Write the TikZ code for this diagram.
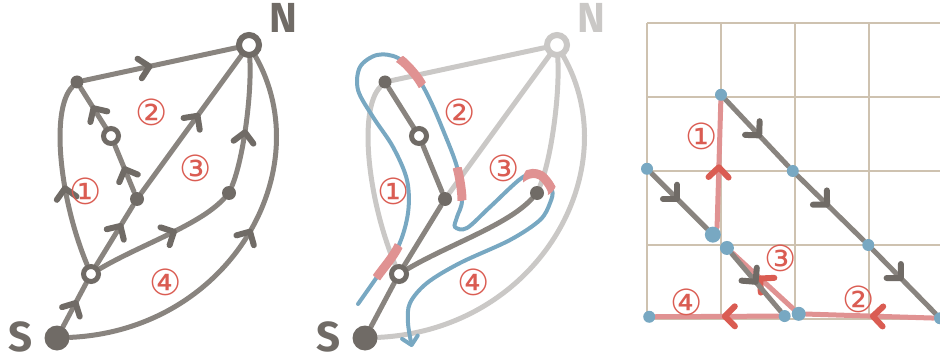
\documentclass[tikz,border=0pt]{standalone}
\usepackage{fontspec}
\setmainfont{Fira Sans}
\newfontfamily\circfont{DejaVu Sans}
\usetikzlibrary{arrows.meta,decorations.markings}

\definecolor{edgegray}{RGB}{137,132,127}
\definecolor{dotgray}{RGB}{112,107,102}
\definecolor{fadegray}{RGB}{202,200,198}
\definecolor{walkblue}{RGB}{120,168,194}
\definecolor{cutpink}{RGB}{224,146,146}
\definecolor{labelred}{RGB}{218,92,82}
\definecolor{gridtan}{RGB}{206,194,176}

\pgfdeclarelayer{back}
\pgfsetlayers{back,main}

\tikzset{
  edge/.style={draw=edgegray, line width=2.5pt, line cap=round},
  faded/.style={draw=fadegray, line width=2.5pt, line cap=round},
  pinkedge/.style={draw=cutpink, line width=2.5pt, line cap=round},
  barb/.style={postaction={decorate, decoration={markings, mark=at position #1 with {\arrow{Straight Barb[length=5pt,width=10pt,line width=3pt,round,color=dotgray]}}}}},
  redbarb/.style={postaction={decorate, decoration={markings, mark=at position #1 with {\arrow{Straight Barb[length=5pt,width=10pt,line width=3pt,round,color=labelred]}}}}},
  bigdot/.style={circle, fill=dotgray, inner sep=0pt, minimum size=12.5pt},
  dot/.style={circle, fill=dotgray, inner sep=0pt, minimum size=#1},
  ring/.style={circle, draw=dotgray, fill=white, line width=2.5pt, inner sep=0pt, minimum size=7.5pt},
  bluedot/.style={circle, fill=walkblue, inner sep=0pt, minimum size=#1},
  num/.style={text=labelred, font=\circfont\fontsize{18}{18}\selectfont, inner sep=0pt},
  letter/.style={text=#1, font=\fontsize{21}{21}\selectfont\bfseries, inner sep=0pt},
  walk/.style={draw=walkblue, line width=2pt, line cap=round},
  cut/.style={draw=cutpink, line width=4.5pt},
  gridline/.style={draw=gridtan, line width=0.6pt}
}

\begin{document}
\begin{tikzpicture}[x=0.5pt, y=-0.5pt]
\useasboundingbox (0,0) rectangle (940,363);

% the two copies of the graph
\foreach \p/\dx/\ncol in {a/0/dotgray, b/308/fadegray}{
  \begin{scope}[shift={(\dx,0)}]
    \node[bigdot] (\p S) at (57,338) {};
    \node[ring] (\p A) at (91,274) {};
    \node[dot=7pt] (\p B) at (137,199) {};
    \node[ring] (\p C) at (111,136) {};
    \node[dot=6.5pt] (\p D) at (77,82) {};
    \node[dot=7pt] (\p E) at (229,193) {};
    \node[ring, draw=\ncol, minimum size=10pt, line width=3pt] (\p N) at (249,45) {};
    \node[letter=dotgray] (\p Sl) at (21,337) {S};
    \node[letter=\ncol] (\p Nl) at (283,18) {N};
    \node[num] (\p f1) at (86,191) {①};
    \node[num] (\p f2) at (152,112) {②};
    \node[num] (\p f3) at (196,168) {③};
    \node[num] (\p f4) at (166,282) {④};
  \end{scope}
}

\begin{pgfonlayer}{back}
% left: all edges directed
\draw[edge, barb=0.6] (aS) -- (aA);
\draw[edge, barb=0.45] (aA) .. controls (60,200) and (50,110) .. (aD);
\draw[edge, barb=0.45] (aD) -- (aN);
\draw[edge, barb=0.7] (aA) -- (aB);
\draw[edge, barb=0.55] (aB) -- (aC);
\draw[edge, barb=0.55] (aC) -- (aD);
\draw[edge, barb=0.58] (aB) -- (aN);
\draw[edge, barb=0.6] (aA) .. controls (140,245) and (200,225) .. (aE);
\draw[edge, barb=0.45] (aE) .. controls (243,160) and (252,95) .. (aN);
\draw[edge, barb=0.55] (aS) .. controls (230,330) and (320,170) .. (aN);
% middle: spanning tree dark, the rest faded
\begin{scope}[shift={(308,0)}]
\draw[faded] (bA) .. controls (60,200) and (50,110) .. (bD);
\draw[faded] (bD) -- (bN);
\draw[faded] (bB) -- (bN);
\draw[faded] (bE) .. controls (243,160) and (252,95) .. (bN);
\draw[faded] (bS) .. controls (230,330) and (320,170) .. (bN);
\draw[edge] (bS) -- (bA);
\draw[edge] (bA) -- (bB);
\draw[edge] (bB) -- (bC);
\draw[edge] (bC) -- (bD);
\draw[edge] (bA) .. controls (140,245) and (200,225) .. (bE);
\end{scope}
\end{pgfonlayer}

% walk round the tree
\begin{scope}[shift={(308,0)}]
\def\walkline{plot[smooth, tension=0.55] coordinates {(50,304) (69,277) (90,247) (100,213) (99,180) (85,147) (65,117) (50,90) (52,67) (69,55) (90,58) (109,77) (122,100) (135,130) (149,167) (154,200) (149,217) (147,227) (159,228) (182,207) (215,177) (232,175) (244,190) (242,203) (232,220) (202,240) (152,263) (119,283) (102,303) (100,323) (104,347)}}
\draw[walk, -{Straight Barb[length=4pt,width=8pt,round]}] \walkline;
\foreach \cx/\cy/\r in {80/262/10pt, 103/72/9pt, 152/184/8.5pt, 232/180/8.5pt}{
  \begin{scope}
    \clip (\cx,\cy) circle (\r);
    \draw[cut] \walkline;
  \end{scope}
}
\end{scope}

% right: the grid picture
\begin{scope}[shift={(647,319)}, x=37pt, y=37pt]
\node[bluedot=6pt] (p1) at (1,3.03) {};
\node[bluedot=6pt] (p2) at (0,2.03) {};
\node[bluedot=6pt] (p3) at (1.97,2) {};
\node[bluedot=8pt] (p4) at (0.89,1.14) {};
\node[bluedot=7pt] (p5) at (1.08,0.96) {};
\node[bluedot=6pt] (p6) at (2.99,1) {};
\node[bluedot=6pt] (p7) at (0.03,0.03) {};
\node[bluedot=6pt] (p8) at (1.86,0.04) {};
\node[bluedot=7pt] (p9) at (2.05,0.07) {};
\node[bluedot=6pt] (p10) at (3.96,0.01) {};
\node[num] (g1) at (0.74,2.47) {①};
\node[num] (g2) at (2.86,0.27) {②};
\node[num] (g3) at (1.81,0.82) {③};
\node[num] (g4) at (0.54,0.22) {④};
\begin{pgfonlayer}{back}
\draw[gridline, step=37pt] (0,0) grid (4.2,4);
\draw[pinkedge, redbarb=0.5] (p4.60) -- (p1);
\draw[pinkedge, redbarb=0.5] (p10) -- (p9);
\draw[pinkedge, redbarb=0.58] (p9) -- (p5);
\draw[pinkedge, redbarb=0.46] (p8) -- (p7);
\draw[edge, barb=0.5] (p2) -- (p4);
\draw[edge, barb=0.57] (p1) -- (p3);
\draw[edge, barb=0.48] (p3) -- (p6);
\draw[edge, barb=0.48] (p6) -- (p10);
\draw[edge, barb=0.53] (p5) -- (p8);
\end{pgfonlayer}
\end{scope}
\end{tikzpicture}
\end{document}
